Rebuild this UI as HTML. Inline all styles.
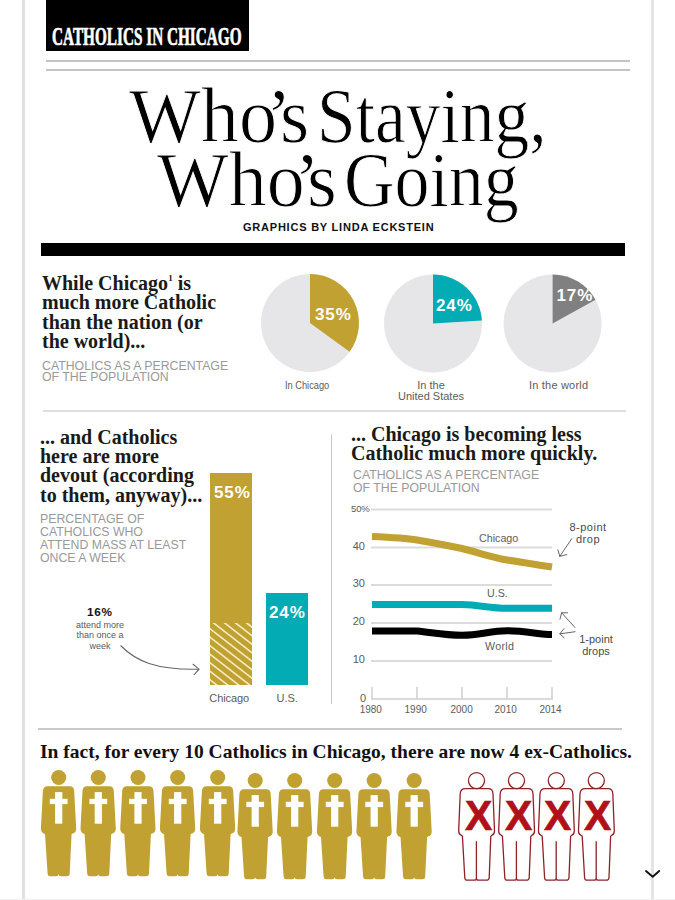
<!DOCTYPE html>
<html><head><meta charset="utf-8">
<style>
html,body{margin:0;padding:0;background:#fff;}
body{width:675px;height:900px;position:relative;overflow:hidden;font-family:"Liberation Sans",sans-serif;color:#000;}
.a{position:absolute;white-space:nowrap;line-height:1;}
.serif{font-family:"Liberation Serif",serif;}
.ttl{-webkit-text-stroke:0.9px #fff;}
.hd{font-family:"Liberation Serif",serif;font-weight:bold;font-size:20px;line-height:19.2px;color:#1a1a1a;}
.sub{font-family:"Liberation Sans",sans-serif;font-size:12.3px;line-height:11px;color:#999;letter-spacing:0px;}
.lbl{font-family:"Liberation Sans",sans-serif;font-size:10px;color:#5c5c5c;}
.pct{font-family:"Liberation Sans",sans-serif;font-weight:bold;color:#fff;}
.gl{position:absolute;background:#d6d6d6;height:2px;}
</style></head><body>

<!-- frame lines -->
<div style="position:absolute;left:22px;top:0;width:2.5px;height:900px;background:#e0e0e0"></div>
<div style="position:absolute;left:651px;top:0;width:3px;height:900px;background:#e4e4e4"></div>

<!-- header box -->
<div style="position:absolute;left:46px;top:0;width:202.5px;height:51px;background:#000"></div>
<div class="a serif" style="left:51.8px;top:24.4px;font-size:25.3px;font-weight:bold;color:#fff;-webkit-text-stroke:0.7px #fff;transform:scaleX(0.603);transform-origin:0 0">CATHOLICS IN CHICAGO</div>

<div class="gl" style="left:46px;top:60.2px;width:584px;height:1.8px;background:#c4c4c4"></div>
<div class="gl" style="left:46px;top:69px;width:584px;height:1.8px;background:#c4c4c4"></div>

<!-- title -->
<div class="a serif ttl" style="left:128.6px;top:76.5px;font-size:78px;transform:scaleX(0.976);transform-origin:0 0">Who</div>
<div class="a serif ttl" style="left:265.7px;top:76.5px;font-size:78px">&rsquo;</div>
<div class="a serif ttl" style="left:279.8px;top:76.5px;font-size:78px;transform:scaleX(0.96);transform-origin:0 0">s</div>
<div class="a serif ttl" style="left:317.4px;top:76.5px;font-size:78px;transform:scaleX(0.891);transform-origin:0 0">Staying,</div>
<div class="a serif ttl" style="left:156.5px;top:141.2px;font-size:78px;transform:scaleX(0.974);transform-origin:0 0">Who</div>
<div class="a serif ttl" style="left:294px;top:141.2px;font-size:78px">&rsquo;</div>
<div class="a serif ttl" style="left:307.4px;top:141.2px;font-size:78px;transform:scaleX(0.98);transform-origin:0 0">s</div>
<div class="a serif ttl" style="left:344.3px;top:141.2px;font-size:78px;transform:scaleX(0.896);transform-origin:0 0">Going</div>
<div class="a" style="left:243px;top:221.5px;font-size:11px;font-weight:bold;letter-spacing:0.78px;color:#111">GRAPHICS BY LINDA ECKSTEIN</div>

<div style="position:absolute;left:41px;top:243px;width:584px;height:13px;background:#000"></div>

<!-- section 1 -->
<div class="a hd" style="left:42px;top:273.9px;white-space:normal;width:200px;line-height:19.4px">While Chicago<sup style="font-size:9px;vertical-align:9px;line-height:0">1</sup> is<br>much more Catholic<br>than the nation (or<br>the world)...</div>
<div class="a sub" style="left:42px;top:361px">CATHOLICS AS A PERCENTAGE<br>OF THE POPULATION</div>

<svg style="position:absolute;left:0;top:0" width="675" height="900" viewBox="0 0 675 900">
  <!-- pies -->
  <circle cx="310" cy="323" r="49" fill="#e6e6e8"/>
  <path d="M310,323 L310,274 A49,49 0 0 1 349.6,351.8 Z" fill="#c1a131"/>
  <circle cx="433" cy="323.5" r="49" fill="#e6e6e8"/>
  <path d="M433,323.5 L433,274.5 A49,49 0 0 1 481.9,320.5 Z" fill="#03abb4"/>
  <circle cx="552.6" cy="323.5" r="49" fill="#e6e6e8"/>
  <path d="M552.6,323.5 L552.6,274.5 A49,49 0 0 1 595.5,299.8 Z" fill="#808080"/>
</svg>
<div class="a pct" style="left:315px;top:305.5px;font-size:17px;letter-spacing:0.9px">35%</div>
<div class="a pct" style="left:436px;top:297px;font-size:17px;letter-spacing:0.9px">24%</div>
<div class="a pct" style="left:556.5px;top:287px;font-size:17px;letter-spacing:0.9px">17%</div>
<div class="a lbl" style="left:285px;top:379.5px;font-size:10.5px;transform:scaleX(0.88);transform-origin:0 0">In Chicago</div>
<div class="a lbl" style="left:397px;top:380px;text-align:center;width:68px;font-size:11px;line-height:10.8px;letter-spacing:0px">In the<br>United States</div>
<div class="a lbl" style="left:529px;top:380.2px;font-size:11px;letter-spacing:0.2px">In the world</div>

<div class="gl" style="left:43px;top:410px;width:583px;height:2px;background:#dedede"></div>

<!-- section 2 left -->
<div class="a hd" style="left:40px;top:428.4px;line-height:19.05px">... and Catholics<br>here are more<br>devout (according<br>to them, anyway)...</div>
<div class="a sub" style="left:40px;top:513.3px;line-height:12.8px">PERCENTAGE OF<br>CATHOLICS WHO<br>ATTEND MASS AT LEAST<br>ONCE A WEEK</div>

<svg style="position:absolute;left:0;top:0" width="675" height="900" viewBox="0 0 675 900">
  <defs>
    <clipPath id="hc"><rect x="210" y="623" width="42" height="62"/></clipPath>
  </defs>
  <rect x="210" y="473" width="42" height="212" fill="#c1a131"/>
  <g clip-path="url(#hc)" stroke="#f7ecc4" stroke-width="1.6">
    <path d="M96,600 l120,93 M107,600 l120,93 M118,600 l120,93 M129,600 l120,93 M140,600 l120,93 M151,600 l120,93 M162,600 l120,93 M173,600 l120,93 M184,600 l120,93 M195,600 l120,93 M206,600 l120,93 M217,600 l120,93 M228,600 l120,93 M239,600 l120,93"/>
  </g>
  <rect x="266" y="593" width="42" height="92" fill="#03abb4"/>
  <path d="M120.5,645.5 C136,661 155,670 199,669.2" fill="none" stroke="#666" stroke-width="1.1"/>
  <path d="M192.8,664 L199,669.2 L193.8,675" fill="none" stroke="#666" stroke-width="1.1"/>
</svg>
<div class="a pct" style="left:214px;top:483.5px;font-size:17px;letter-spacing:0.9px">55%</div>
<div class="a pct" style="left:269px;top:603.5px;font-size:17px;letter-spacing:0.9px">24%</div>
<div class="a lbl" style="left:209.3px;top:692.8px;font-size:11px;letter-spacing:-0.1px">Chicago</div>
<div class="a lbl" style="left:276.5px;top:692.8px;font-size:11px">U.S.</div>
<div class="a" style="left:87px;top:606.5px;font-size:11px;font-weight:bold;color:#111;letter-spacing:0.6px;transform:scaleX(1.07);transform-origin:0 0">16%</div>
<div class="a lbl" style="left:70px;top:619.5px;font-size:9px;line-height:10.9px;text-align:center;width:60px;color:#5a5a5a">attend more<br>than once a<br>week</div>

<!-- divider -->
<div style="position:absolute;left:331px;top:434px;width:1px;height:270px;background:#c8c8c8"></div>

<!-- section 2 right -->
<div class="a hd" style="left:351px;top:425px">... Chicago is becoming less<br>Catholic much more quickly.</div>
<div class="a sub" style="left:353px;top:469.3px;line-height:12.5px">CATHOLICS AS A PERCENTAGE<br>OF THE POPULATION</div>

<svg style="position:absolute;left:0;top:0" width="675" height="900" viewBox="0 0 675 900">
  <g stroke="#dcdcdc" stroke-width="2">
    <line x1="371" y1="509.5" x2="552" y2="509.5"/>
    <line x1="371" y1="547.5" x2="552" y2="547.5"/>
    <line x1="371" y1="585" x2="552" y2="585"/>
    <line x1="371" y1="623" x2="552" y2="623"/>
    <line x1="371" y1="661" x2="552" y2="661"/>
  </g>
  <g stroke="#cfcfcf" stroke-width="1.5" fill="none">
    <line x1="371" y1="699" x2="553" y2="699"/>
    <line x1="372" y1="687" x2="372" y2="699"/>
    <line x1="417" y1="687" x2="417" y2="699"/>
    <line x1="462" y1="687" x2="462" y2="699"/>
    <line x1="507" y1="687" x2="507" y2="699"/>
    <line x1="552" y1="687" x2="552" y2="699"/>
  </g>
  <path d="M372,536.5 C395,537.5 405,538 417,540 C435,543 445,545 462,548.5 C480,553 490,557 507,560 C525,563 540,565 552,567" fill="none" stroke="#c1a131" stroke-width="7"/>
  <path d="M372,604.5 L462,604.5 C480,605 490,608.3 507,608.3 L552,608.3" fill="none" stroke="#03abb4" stroke-width="7"/>
  <path d="M372,631 L417,631 C435,633 445,635.3 462,635.3 C480,635.3 490,630.8 507,630.8 C525,630.8 540,634.5 552,634.5" fill="none" stroke="#000" stroke-width="7"/>
  <g stroke="#555" stroke-width="0.9" fill="none" stroke-linecap="round">
    <path d="M571.8,538.6 L559.8,556.3 L557.9,549.8 M559.8,556.3 L566.8,554.6"/>
    <path d="M574.9,627.4 L561.6,612.8 L567.6,612.8 M561.6,612.8 L560,619.2"/>
    <path d="M575.1,631.7 L559.8,633.9 L564,628.6 M559.8,633.9 L564.2,637.9"/>
  </g>
</svg>
<div class="a lbl" style="left:351px;top:504px;font-size:9.5px;letter-spacing:-0.1px">50%</div>
<div class="a lbl" style="left:345px;top:540.7px;font-size:11px;width:20px;text-align:right">40</div>
<div class="a lbl" style="left:345px;top:578.2px;font-size:11px;width:20px;text-align:right">30</div>
<div class="a lbl" style="left:345px;top:616.2px;font-size:11px;width:20px;text-align:right">20</div>
<div class="a lbl" style="left:345px;top:653.7px;font-size:11px;width:20px;text-align:right">10</div>
<div class="a lbl" style="left:346px;top:692.5px;font-size:11px;width:20px;text-align:right">0</div>
<div class="a lbl" style="left:350.8px;top:705.2px;font-size:10px;width:40px;text-align:center">1980</div>
<div class="a lbl" style="left:395.7px;top:705.2px;font-size:10px;width:40px;text-align:center">1990</div>
<div class="a lbl" style="left:441.6px;top:705.2px;font-size:10px;width:40px;text-align:center">2000</div>
<div class="a lbl" style="left:485.7px;top:705.2px;font-size:10px;width:40px;text-align:center">2010</div>
<div class="a lbl" style="left:530.5px;top:705.2px;font-size:10px;width:40px;text-align:center">2014</div>
<div class="a lbl" style="left:479px;top:533px;font-size:10.7px">Chicago</div>
<div class="a lbl" style="left:487px;top:588px;font-size:10.7px">U.S.</div>
<div class="a lbl" style="left:485px;top:641px;font-size:10.7px;letter-spacing:0.3px">World</div>
<div class="a lbl" style="left:568px;top:520.5px;font-size:11px;line-height:12.5px;text-align:center;width:40px;letter-spacing:0.5px;color:#4a4a4a">8-point<br>drop</div>
<div class="a lbl" style="left:578px;top:633.3px;font-size:11px;line-height:12px;text-align:center;width:36px;color:#4a4a4a">1-point<br>drops</div>

<div class="gl" style="left:38px;top:728px;width:584px;height:1.5px;background:#c8c8c8"></div>

<!-- bottom -->
<div class="a serif" style="left:40px;top:741.8px;font-size:19.5px;font-weight:bold;color:#111">In fact, for every 10 Catholics in Chicago, there are now 4 ex-Catholics.</div>

<svg style="position:absolute;left:0;top:0" width="675" height="900" viewBox="0 0 675 900">
  <defs>
    <g id="gp">
      <circle cx="17.7" cy="7.5" r="7.55"/>
      <path d="M6.5,16.3 L28.8,16.3 Q33,16.3 33.2,21 L35.2,58.5 Q35.3,62 32.5,63.2 L30.6,64 L28.7,103.8 Q28.5,106.3 25.8,106.3 L20,106.3 Q17.6,106.3 17.6,104.3 Q17.6,106.3 15.2,106.3 L9.4,106.3 Q6.8,106.3 6.6,103.8 L4,64 L2,63.2 Q-0.2,62 -0.1,58.5 L1.9,21 Q2.2,16.3 6.5,16.3 Z"/>
    </g>
    <g id="cross" fill="#fff">
      <rect x="14.1" y="22.1" width="7.2" height="31.6"/>
      <rect x="8.8" y="28.8" width="17.8" height="5.3"/>
    </g>
    <g id="rp">
      <circle cx="18.3" cy="8.4" r="8.05"/>
      <path d="M7,16.4 L30,16.4 Q34.6,16.4 34.8,21.5 L36.3,58.5 Q36.4,62 33.8,63 L32.6,64 L31,105.5 Q30.8,108 28.3,108 L20.3,108 Q18.3,108 18.2,106 Q18.1,108 16.1,108 L8.9,108 Q6.7,108 6.6,105.5 L4.2,64 L2.9,63 Q0.4,62 0.5,58.5 L2,21.5 Q2.4,16.4 7,16.4 Z M18.2,69 L18.2,106"/>
    </g>
  </defs>
  <g fill="#c1a131">
    <use href="#gp" x="41" y="770"/><use href="#cross" x="41" y="770"/>
    <use href="#gp" x="80.6" y="770"/><use href="#cross" x="80.6" y="770"/>
    <use href="#gp" x="120.3" y="770"/><use href="#cross" x="120.3" y="770"/>
    <use href="#gp" x="160" y="770"/><use href="#cross" x="160" y="770"/>
    <use href="#gp" x="200" y="770"/><use href="#cross" x="200" y="770"/>
    <use href="#gp" x="237.5" y="773"/><use href="#cross" x="237.5" y="773"/>
    <use href="#gp" x="277" y="773"/><use href="#cross" x="277" y="773"/>
    <use href="#gp" x="317" y="773"/><use href="#cross" x="317" y="773"/>
    <use href="#gp" x="356.5" y="773"/><use href="#cross" x="356.5" y="773"/>
    <use href="#gp" x="396.5" y="773"/><use href="#cross" x="396.5" y="773"/>
  </g>
  <g fill="none" stroke="#8e2226" stroke-width="1.3">
    <use href="#rp" x="458.2" y="772.2"/>
    <use href="#rp" x="498.2" y="772.2"/>
    <use href="#rp" x="538" y="772.2"/>
    <use href="#rp" x="578" y="772.2"/>
  </g>
  <path d="M646,871 L652.7,876.8 L659.2,871" fill="none" stroke="#111" stroke-width="1.9" stroke-linecap="round" stroke-linejoin="round"/>
</svg>

<div class="a" style="left:464.8px;top:793.8px;font-size:43px;font-weight:bold;color:#b0101a;-webkit-text-stroke:0.7px #b0101a;transform:scaleX(0.95);transform-origin:0 0">X</div>
<div class="a" style="left:504.8px;top:793.8px;font-size:43px;font-weight:bold;color:#b0101a;-webkit-text-stroke:0.7px #b0101a;transform:scaleX(0.95);transform-origin:0 0">X</div>
<div class="a" style="left:544.3px;top:793.8px;font-size:43px;font-weight:bold;color:#b0101a;-webkit-text-stroke:0.7px #b0101a;transform:scaleX(0.95);transform-origin:0 0">X</div>
<div class="a" style="left:584.3px;top:793.8px;font-size:43px;font-weight:bold;color:#b0101a;-webkit-text-stroke:0.7px #b0101a;transform:scaleX(0.95);transform-origin:0 0">X</div>
<div style="position:absolute;left:0;top:899px;width:675px;height:1px;background:#f0f0f0"></div>
</body></html>
